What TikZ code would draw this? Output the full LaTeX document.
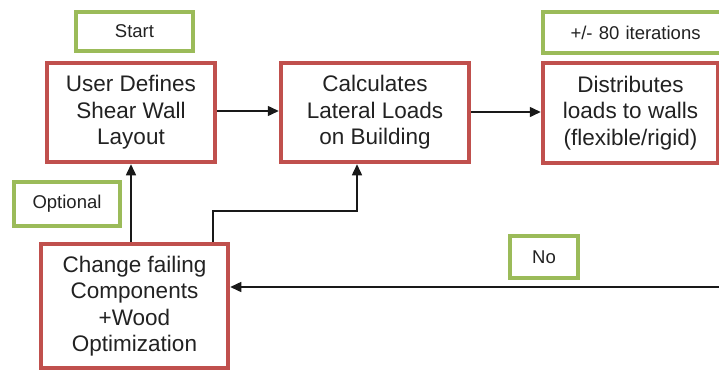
\documentclass[tikz,border=0pt]{standalone}
\usepackage{fontspec}
\setmainfont{Liberation Sans}
\usetikzlibrary{arrows.meta}
\definecolor{boxred}{HTML}{C0504D}
\definecolor{boxgreen}{HTML}{9BBB59}
\definecolor{ink}{HTML}{222222}
\tikzset{
  mainbox/.style={draw=boxred, line width=4.5pt, fill=white, text=ink, align=center,
    inner sep=0pt, font=\fontsize{22.5}{26.5}\selectfont},
  tagbox/.style={draw=boxgreen, line width=4.5pt, fill=white, text=ink, align=center,
    inner sep=0pt, font=\fontsize{18.5}{22}\selectfont},
  conn/.style={draw=black!90, line width=1.5pt, -{Triangle[length=11pt,width=10pt]}},
}
\begin{document}
\begin{tikzpicture}[x=1pt,y=-1pt]
\useasboundingbox (0,0) rectangle (719,372);
\clip (0,0) rectangle (719,372);
\fill[white] (0,0) rectangle (719,372);
\node[tagbox, minimum width=117pt, minimum height=39pt] (start) at (134.5,31.5) {Start};
\node[mainbox, minimum width=168pt, minimum height=99pt] (user) at (131,112.5) {User Defines\\Shear Wall\\Layout};
\node[mainbox, minimum width=188pt, minimum height=99pt] (calc) at (375,112.5) {Calculates\\Lateral Loads\\on Building};
\node[mainbox, minimum width=175pt, minimum height=100pt] (dist) at (630.5,113) {Distributes\\loads to walls\\(flexible/rigid)};
\node[tagbox, minimum width=187pt, minimum height=41pt, text width=180pt, align=left] (iter) at (636.5,32.5) {\hspace*{24pt}+/- 80 iterations};
\node[tagbox, minimum width=106pt, minimum height=44pt] (opt) at (67,204) {Optional};
\node[mainbox, minimum width=187pt, minimum height=124pt] (change) at (134.5,306) {Change failing\\Components\\+Wood\\Optimization};
\node[tagbox, minimum width=68pt, minimum height=42pt] (no) at (544,257) {No};
\coordinate (noStart) at (725,287);
\coordinate (bend1) at (213,211);
\coordinate (bend2) at (357,211);
\draw[conn] (user.east |- 0,111) -- (calc.west |- 0,111);
\draw[conn] (calc.east |- 0,112) -- (dist.west |- 0,112);
\draw[conn] (user.south |- change.north) -- (user.south);
\draw[conn] (bend1 |- change.north) -- (bend1) -- (bend2) -- (bend2 |- calc.south);
\draw[conn] (noStart) -- (change.east |- noStart);
\end{tikzpicture}
\end{document}
